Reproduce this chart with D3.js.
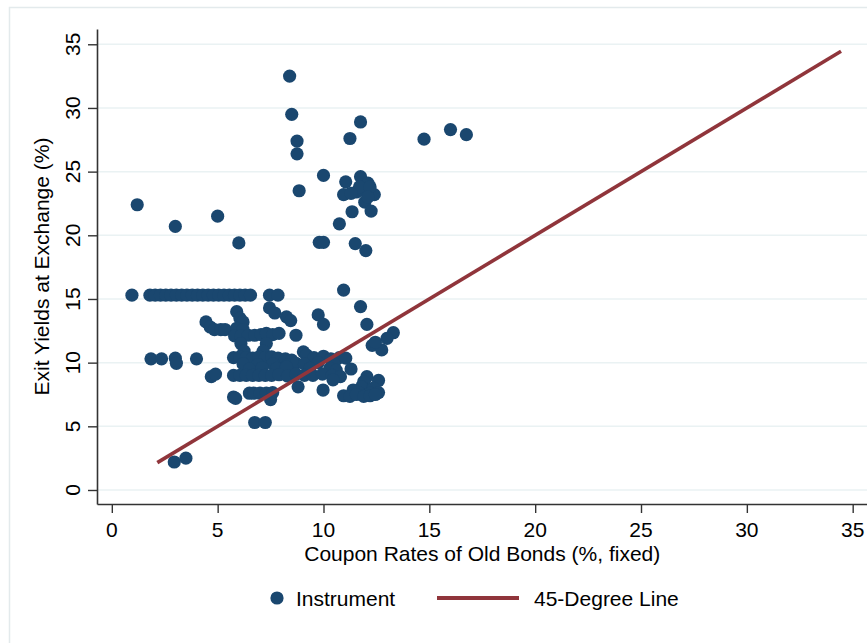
<!DOCTYPE html>
<html>
<head>
<meta charset="utf-8">
<script src="https://cdn.jsdelivr.net/npm/d3@7/dist/d3.min.js"></script>
<style>
  html, body { margin: 0; padding: 0; background: #ffffff; }
  svg { display: block; }
  text { font-family: "Liberation Sans", Arial, sans-serif; fill: #000; }
</style>
</head>
<body>
<svg id="chart" width="867" height="643"></svg>
<script>
// ---- Data ----
const coupon = [
  // scattered high points
  1.2, 3.0, 5.0, 6.0, 8.4, 8.5, 8.75, 8.75, 8.85, 10.0, 11.25, 11.75, 14.75, 16.0, 16.75,
  // cluster 11-12.5 / 19-24.5
  11.05, 11.75, 12.1, 10.95, 11.55, 11.85, 12.4, 11.7, 12.2, 11.95, 12.25, 11.35, 10.75, 9.8, 10.0, 11.5, 12.0, 12.1, 11.3,
  // row at 15.3
  0.95, 1.8, 2.05, 2.3, 2.55, 2.8, 3.05, 3.3, 3.55, 3.8, 4.05, 4.3, 4.55, 4.8, 5.05, 5.3, 5.55, 5.8, 6.05, 6.3, 6.55, 7.45, 7.85,
  // 12.5 - 15.7 scattered
  10.95, 11.75, 12.05, 9.75, 10.0, 7.45, 7.7, 8.25, 8.45, 5.9, 6.05, 6.2, 4.45, 4.65, 4.85, 5.15, 5.35, 5.9, 6.2,
  // row ~12.1
  5.8, 6.1, 6.45, 6.75, 7.05, 7.3, 7.6, 7.9, 8.7,
  // right side 11-12.4
  13.3, 13.0, 12.3, 12.75, 12.45,
  // rows ~11.5 and ~10.9
  6.1, 7.3, 6.25, 7.15, 9.05,
  // row ~10.35
  1.85, 2.35, 3.0, 4.0, 5.75, 6.05, 6.35, 6.65, 6.95, 7.25, 7.55, 7.85, 8.2, 8.5, 9.2, 9.55, 10.0, 10.35, 10.75, 11.05,
  // row ~9.9
  3.05, 6.2, 6.9, 7.6, 8.3, 8.7, 9.1, 10.5, 9.75,
  // row ~9.5
  7.8, 8.25, 9.35, 10.3, 10.6, 11.3, 6.5, 7.1,
  // row ~9.0
  4.7, 4.9, 5.75, 6.05, 6.35, 6.65, 6.95, 7.25, 7.55, 7.9, 8.3, 8.7, 9.1, 9.5, 9.95, 10.4, 10.8,
  // lower points
  10.45, 12.6, 12.05, 11.9, 8.8, 9.98, 11.8, 12.35, 6.5, 6.7, 7.0, 7.3, 7.6, 11.7, 12.2, 12.6, 11.4,
  5.75, 5.85, 7.5, 10.95, 11.25, 11.55, 11.9, 12.2, 12.45, 6.75, 7.25, 2.95, 3.5
];
const exitYield = [
  22.4, 20.7, 21.5, 19.4, 32.5, 29.5, 27.4, 26.4, 23.5, 24.7, 27.6, 28.9, 27.55, 28.3, 27.9,
  24.2, 24.6, 24.1, 23.2, 23.4, 23.55, 23.2, 23.8, 23.8, 22.6, 21.9, 21.85, 20.9, 19.45, 19.45, 19.35, 18.8, 23.0, 23.3,
  15.3, 15.3, 15.3, 15.3, 15.3, 15.3, 15.3, 15.3, 15.3, 15.3, 15.3, 15.3, 15.3, 15.3, 15.3, 15.3, 15.3, 15.3, 15.3, 15.3, 15.3, 15.3, 15.3,
  15.7, 14.4, 13.0, 13.75, 13.0, 14.3, 13.9, 13.6, 13.3, 14.0, 13.5, 13.2, 13.2, 12.8, 12.6, 12.6, 12.6, 12.7, 12.6,
  12.1, 12.1, 12.15, 12.15, 12.2, 12.3, 12.2, 12.3, 12.15,
  12.35, 11.9, 11.35, 11.0, 11.6,
  11.5, 11.5, 10.9, 10.9, 10.85,
  10.3, 10.3, 10.35, 10.3, 10.4, 10.45, 10.4, 10.35, 10.45, 10.4, 10.45, 10.35, 10.3, 10.2, 10.6, 10.4, 10.5, 10.3, 10.4, 10.35,
  9.95, 9.9, 9.85, 9.9, 9.8, 9.95, 9.9, 9.9, 10.0,
  9.55, 9.65, 9.55, 9.55, 9.4, 9.5, 9.5, 9.6,
  8.9, 9.1, 9.0, 9.0, 9.0, 9.0, 9.0, 9.0, 9.0, 9.05, 8.95, 9.1, 9.0, 9.0, 9.1, 9.0, 8.9,
  8.65, 8.6, 8.9, 8.5, 8.1, 7.85, 8.1, 8.0, 7.6, 7.6, 7.6, 7.6, 7.65, 7.6, 7.6, 7.65, 7.85,
  7.3, 7.2, 7.1, 7.4, 7.35, 7.5, 7.35, 7.4, 7.5, 5.3, 5.3, 2.2, 2.5
];
const lineVals = [2.15, 34.45];          // 45-degree line endpoints (x = y)
const xTicks = [0, 5, 10, 15, 20, 25, 30, 35];
const yTicks = [0, 5, 10, 15, 20, 25, 30, 35];
const xTitle = "Coupon Rates of Old Bonds (%, fixed)";
const yTitle = "Exit Yields at Exchange (%)";
const legendLabels = ["Instrument", "45-Degree Line"];

// ---- Styles ----
const navy = "#1a476f";
const maroon = "#90353b";
const gridColor = "#eaf2f3";
const axisColor = "#333333";
const fontSize = 21;

const svg = d3.select("#chart");

// outer graph-region border
svg.append("rect")
  .attr("x", 9.5).attr("y", 7.5)
  .attr("width", 900).attr("height", 700)
  .attr("fill", "#ffffff")
  .attr("stroke", "#e3eaec").attr("stroke-width", 1.5);

// scales
const x = d3.scaleLinear().domain([-0.7, 35.7]).range([97, 867.5]);
const y = d3.scaleLinear().domain([-1.1, 36.2]).range([504, 29]);

// gridlines
svg.append("g").selectAll("line").data(yTicks).join("line")
  .attr("x1", x(-0.7)).attr("x2", x(35.7))
  .attr("y1", d => y(d)).attr("y2", d => y(d))
  .attr("stroke", gridColor).attr("stroke-width", 1.5);

// y axis
const yAxis = svg.append("g")
  .attr("transform", `translate(${x(-0.7)},0)`)
  .call(d3.axisLeft(y).tickValues(yTicks).tickSize(9).tickSizeOuter(0).tickFormat(""));
yAxis.select(".domain").attr("stroke", axisColor).attr("stroke-width", 1.6);
yAxis.selectAll(".tick line").attr("stroke", axisColor).attr("stroke-width", 1.4);

// y tick labels (rotated)
svg.append("g").selectAll("text").data(yTicks).join("text")
  .attr("transform", d => `translate(80,${y(d)}) rotate(-90)`)
  .attr("text-anchor", "middle")
  .style("font-size", fontSize + "px")
  .text(d => d);

// x axis
const xAxis = svg.append("g")
  .attr("transform", `translate(0,${y(-1.1)})`)
  .call(d3.axisBottom(x).tickValues(xTicks).tickSize(9).tickSizeOuter(0).tickFormat(""));
xAxis.select(".domain").attr("stroke", axisColor).attr("stroke-width", 1.6);
xAxis.selectAll(".tick line").attr("stroke", axisColor).attr("stroke-width", 1.4);

svg.append("g").selectAll("text").data(xTicks).join("text")
  .attr("x", d => x(d)).attr("y", 537)
  .attr("text-anchor", "middle")
  .style("font-size", fontSize + "px")
  .text(d => d);

// axis titles
svg.append("text")
  .attr("x", (x(-0.7) + x(35.7)) / 2).attr("y", 561)
  .attr("text-anchor", "middle")
  .style("font-size", fontSize + "px")
  .text(xTitle);

svg.append("text")
  .attr("transform", `translate(48.5,${(y(-1.1) + y(36.2)) / 2}) rotate(-90)`)
  .attr("text-anchor", "middle")
  .style("font-size", fontSize + "px")
  .text(yTitle);

// points
const pts = coupon.map((c, i) => ({ c: c, e: exitYield[i] }));
svg.append("g").selectAll("circle").data(pts).join("circle")
  .attr("cx", d => x(d.c)).attr("cy", d => y(d.e))
  .attr("r", 6.6)
  .attr("fill", navy);

// 45-degree line
svg.append("line")
  .attr("x1", x(lineVals[0])).attr("y1", y(lineVals[0]))
  .attr("x2", x(lineVals[1])).attr("y2", y(lineVals[1]))
  .attr("stroke", maroon).attr("stroke-width", 3.6);

// legend
const lg = svg.append("g");
lg.append("circle").attr("cx", 277).attr("cy", 598).attr("r", 6.6).attr("fill", navy);
lg.append("text").attr("x", 296).attr("y", 606).style("font-size", fontSize + "px").text(legendLabels[0]);
lg.append("line").attr("x1", 437).attr("x2", 519).attr("y1", 598).attr("y2", 598)
  .attr("stroke", maroon).attr("stroke-width", 4);
lg.append("text").attr("x", 534).attr("y", 606).style("font-size", fontSize + "px").text(legendLabels[1]);
</script>
</body>
</html>
